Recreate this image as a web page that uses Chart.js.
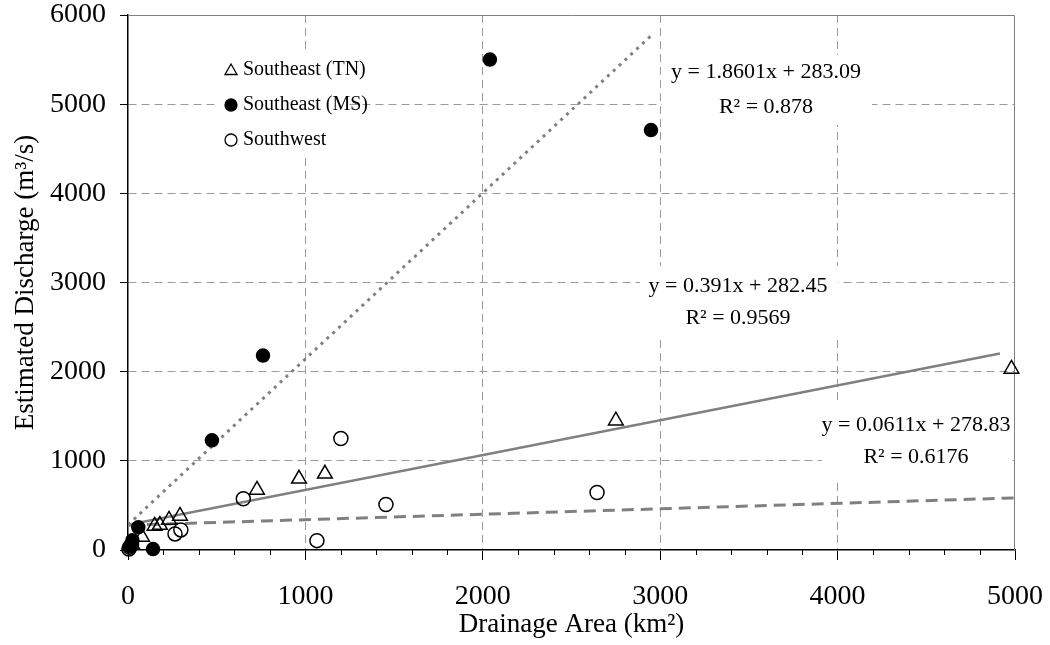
<!DOCTYPE html>
<html>
<head>
<meta charset="utf-8">
<script src="https://cdn.jsdelivr.net/npm/chart.js@4.4.1/dist/chart.umd.min.js"></script>
<style>
  html, body { margin: 0; padding: 0; background: #fff; }
  #wrap { width: 1050px; height: 645px; }
</style>
</head>
<body>
<div id="wrap"><canvas id="dischargeChart" width="1050" height="645"></canvas></div>
<script>
// drainage area (km2) vs estimated discharge (m3/s)
var tnArea = [4980, 2750, 1110, 964, 727, 293, 231, 180, 150, 79, 25];
var tnFlow = [2030, 1450, 854, 798, 674, 382, 337, 280, 270, 146, 56];

var msArea = [2040, 2948, 761, 473, 141, 58, 25, 10];
var msFlow = [5500, 4710, 2180, 1230, 10, 255, 110, 40];

var swArea = [1200, 650, 1454, 2644, 1065, 298, 265, 20, 10, 5];
var swFlow = [1250, 575, 510, 645, 105, 225, 180, 60, 30, 10];

var seriesNames = ['Southeast (TN)', 'Southeast (MS)', 'Southwest'];

// linear trendlines as printed on the chart (TN, MS, SW)
var trendSlope = [0.391, 1.8601, 0.0611];
var trendIntercept = [282.45, 283.09, 278.83];
var trendEnd = [4915, 2950, 5000];
var trendText = [
    ['y = 0.391x + 282.45', 'R\u00b2 = 0.9569'],
    ['y = 1.8601x + 283.09', 'R\u00b2 = 0.878'],
    ['y = 0.0611x + 278.83', 'R\u00b2 = 0.6176']
];

var xTicks = [0, 1000, 2000, 3000, 4000, 5000];
var yTicks = [0, 1000, 2000, 3000, 4000, 5000, 6000];

var serif = "'Liberation Serif', 'Times New Roman', serif";

function pts(xs, ys) {
    return xs.map(function (x, i) { return { x: x, y: ys[i] }; });
}

function trendPts(k) {
    return [
        { x: 0, y: trendIntercept[k] },
        { x: trendEnd[k], y: trendSlope[k] * trendEnd[k] + trendIntercept[k] }
    ];
}

// marker look for each series, shared with the legend
var markers = [
    { pointStyle: 'triangle', radius: 8.5, fill: 'rgba(0,0,0,0)' },
    { pointStyle: 'circle', radius: 6.5, fill: '#000' },
    { pointStyle: 'circle', radius: 7, fill: 'rgba(0,0,0,0)' }
];

// white boxes with the regression text (pixel layout)
var noteBoxes = [
    { k: 0, x0: 640, y0: 266, x1: 838, y1: 340, cx: 738, ly: [286, 318] },
    { k: 1, x0: 662, y0: 55, x1: 872, y1: 125, cx: 766, ly: [72, 107] },
    { k: 2, x0: 822, y0: 402, x1: 1010, y1: 478, cx: 916, ly: [425, 457] }
];

var extrasPlugin = {
    id: 'extras',
    beforeDatasetsDraw: function (chart) {
        var ctx = chart.ctx;
        var a = chart.chartArea;
        ctx.save();
        // top and right frame
        ctx.strokeStyle = '#808080';
        ctx.lineWidth = 1;
        ctx.beginPath();
        ctx.moveTo(a.left, a.top + 0.5);
        ctx.lineTo(a.right - 0.5, a.top + 0.5);
        ctx.lineTo(a.right - 0.5, a.bottom);
        ctx.stroke();

        // minor ticks on x axis
        var xs = chart.scales.x;
        ctx.strokeStyle = '#000';
        for (var v = 200; v < 5000; v += 200) {
            if (v % 1000 === 0) continue;
            var px = Math.round(xs.getPixelForValue(v)) + 0.5;
            ctx.beginPath();
            ctx.moveTo(px, a.bottom);
            ctx.lineTo(px, a.bottom + 5);
            ctx.stroke();
        }

        // legend
        ctx.fillStyle = '#fff';
        ctx.fillRect(215, 50, 132, 106);
        ctx.font = '20px ' + serif;
        ctx.textBaseline = 'middle';
        ctx.textAlign = 'left';
        for (var i = 0; i < seriesNames.length; i++) {
            var ly = 70 + i * 35;
            ctx.fillStyle = markers[i].fill;
            ctx.strokeStyle = '#000';
            ctx.lineWidth = 1.3;
            Chart.helpers.drawPoint(ctx, {
                pointStyle: markers[i].pointStyle,
                radius: markers[i].pointStyle === 'triangle' ? 7 : 6,
                rotation: 0,
                borderWidth: 1.3
            }, 231, ly + (markers[i].pointStyle === 'triangle' ? 1 : 0));
            ctx.fillStyle = '#000';
            ctx.fillText(seriesNames[i], 243, ly);
        }

        // regression notes
        ctx.font = '22px ' + serif;
        ctx.textAlign = 'center';
        noteBoxes.forEach(function (b) {
            ctx.fillStyle = '#fff';
            ctx.fillRect(b.x0, b.y0, b.x1 - b.x0, b.y1 - b.y0);
            ctx.fillStyle = '#000';
            ctx.fillText(trendText[b.k][0], b.cx, b.ly[0]);
            ctx.fillText(trendText[b.k][1], b.cx, b.ly[1]);
        });
        ctx.restore();
    }
};

function markerSet(k, data) {
    return {
        label: seriesNames[k],
        data: data,
        showLine: false,
        clip: false,
        pointStyle: markers[k].pointStyle,
        pointRadius: markers[k].radius,
        pointHoverRadius: markers[k].radius,
        pointBackgroundColor: markers[k].fill,
        pointBorderColor: '#000',
        pointBorderWidth: 1.5
    };
}

function trendSet(k, dash, width) {
    return {
        label: seriesNames[k] + ' trend',
        data: trendPts(k),
        showLine: true,
        pointRadius: 0,
        borderColor: '#808080',
        borderWidth: width,
        borderDash: dash,
        fill: false
    };
}

function plainLabel(v) { return String(v); }

var ctx = document.getElementById('dischargeChart').getContext('2d');

var chart = new Chart(ctx, {
    type: 'scatter',
    data: {
        datasets: [
            markerSet(0, pts(tnArea, tnFlow)),
            markerSet(1, pts(msArea, msFlow)),
            markerSet(2, pts(swArea, swFlow)),
            trendSet(0, [], 2.5),
            trendSet(1, [3, 5], 3),
            trendSet(2, [12, 7], 3)
        ]
    },
    options: {
        responsive: false,
        animation: false,
        layout: { padding: { top: 15, right: 35, left: 0, bottom: 0 } },
        plugins: {
            legend: { display: false },
            tooltip: { enabled: false }
        },
        scales: {
            x: {
                type: 'linear',
                min: 0,
                max: 5000,
                afterBuildTicks: function (s) { s.ticks = xTicks.map(function (v) { return { value: v }; }); },
                afterFit: function (s) { s.height = 95; s.paddingLeft = 0; s.paddingRight = 0; },
                ticks: { color: '#000', padding: 20, font: { family: serif, size: 28 }, callback: plainLabel },
                grid: {
                    color: function (c) { return (c.tick && (c.tick.value === 0 || c.tick.value === 5000)) ? 'rgba(0,0,0,0)' : '#9a9a9a'; },
                    lineWidth: 1,
                    tickColor: '#000',
                    tickLength: 10
                },
                border: { display: true, color: '#000', width: 1.5, dash: [8, 5] },
                title: {
                    display: true,
                    text: 'Drainage Area (km\u00b2)',
                    color: '#000',
                    font: { family: serif, size: 27 },
                    padding: { top: 0, bottom: 4 }
                }
            },
            y: {
                type: 'linear',
                min: 0,
                max: 6000,
                afterBuildTicks: function (s) { s.ticks = yTicks.map(function (v) { return { value: v }; }); },
                afterFit: function (s) { s.width = 128; s.paddingTop = 0; s.paddingBottom = 0; },
                ticks: { color: '#000', padding: 14, font: { family: serif, size: 28 }, callback: plainLabel },
                grid: {
                    color: function (c) { return (c.tick && (c.tick.value === 0 || c.tick.value === 6000)) ? 'rgba(0,0,0,0)' : '#9a9a9a'; },
                    lineWidth: 1,
                    tickColor: '#000',
                    tickLength: 8
                },
                border: { display: true, color: '#000', width: 1.5, dash: [8, 5] },
                title: {
                    display: true,
                    text: 'Estimated Discharge (m\u00b3/s)',
                    color: '#000',
                    font: { family: serif, size: 27 },
                    padding: { top: 10, bottom: 0 }
                }
            }
        }
    },
    plugins: [extrasPlugin]
});
</script>
</body>
</html>
